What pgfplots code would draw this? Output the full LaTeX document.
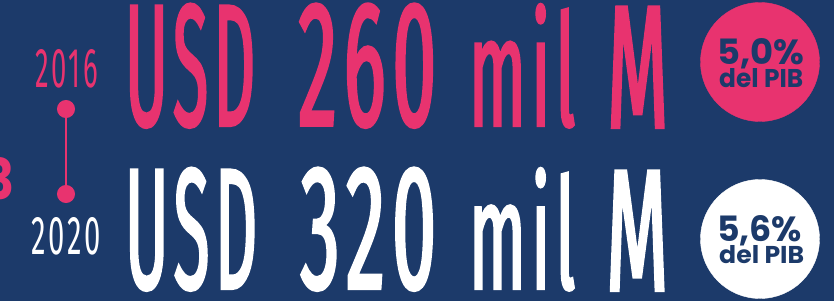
\documentclass[border=0pt]{standalone}
\usepackage{pgfplots}
\pgfplotsset{compat=1.18}
\usepackage{fontspec}
\setmainfont{Fira Sans}
\newfontfamily\bigfont{Fira Sans}[FakeStretch=0.45, FakeBold=1.5, LetterSpace=4]
\newfontfamily\yearfont{Fira Sans}[FakeStretch=0.6, LetterSpace=6]
\newfontfamily\circfont{Poppins}
\definecolor{navy}{HTML}{1C3A6A}
\definecolor{rosa}{HTML}{E8336F}
\newcommand\BW[3]{\resizebox{#1pt}{#2pt}{\bigfont\fontsize{177pt}{177pt}\selectfont #3}}
\begin{document}
\begin{tikzpicture}
\begin{axis}[
  at={(0,0)}, anchor=south west,
  width=834pt, height=301pt, scale only axis,
  xmin=0, xmax=834, ymin=0, ymax=301,
  axis line style={draw=none}, ticks=none,
  axis background/.style={fill=navy},
  clip=false, set layers=standard,
]
% circles
\addplot[only marks, mark=*, mark size=59.5pt, mark options={fill=rosa, draw=rosa}] coordinates {(760,239)};
\addplot[only marks, mark=*, mark size=59.5pt, mark options={fill=white, draw=white}] coordinates {(760,62)};
% timeline
\addplot[rosa, line width=2pt, mark=*, mark size=8pt, mark options={fill=rosa, draw=rosa}] coordinates {(66,192) (66,107)};
\begin{pgfonlayer}{axis foreground}
% big amounts, top line
\node[anchor=south west, inner sep=0pt, text=rosa] at (axis cs:125,173) {\BW{130}{122}{USD}};
\node[anchor=south west, inner sep=0pt, text=rosa] at (axis cs:298,173) {\BW{138}{122}{260}};
\node[anchor=south west, inner sep=0pt, text=rosa] at (axis cs:469,173) {\BW{106}{122}{mil}};
\node[anchor=south west, inner sep=0pt, text=rosa] at (axis cs:607,173) {\BW{61}{121}{M}};
% bottom line
\node[anchor=south west, inner sep=0pt, text=white] at (axis cs:125,10) {\BW{132}{121}{USD}};
\node[anchor=south west, inner sep=0pt, text=white] at (axis cs:300,10) {\BW{136}{121}{320}};
\node[anchor=south west, inner sep=0pt, text=white] at (axis cs:469,10) {\BW{106}{121}{mil}};
\node[anchor=south west, inner sep=0pt, text=white] at (axis cs:606,10) {\BW{62}{120}{M}};
% years
\node[anchor=south west, inner sep=0pt, text=rosa] at (axis cs:35,213)
  {\resizebox{63pt}{38pt}{\yearfont 2016}};
\node[anchor=south west, inner sep=0pt, text=white] at (axis cs:31,46)
  {\resizebox{70pt}{37pt}{\yearfont 2020}};
% partial 3
\node[anchor=south east, inner sep=0pt, text=rosa] at (axis cs:15,101)
  {\resizebox{30pt}{42pt}{\circfont\bfseries 3}};
% circle texts
\node[anchor=base west, inner sep=0pt, text=navy] at (axis cs:717,237)
  {\resizebox{87pt}{26pt}{\circfont\bfseries 5,0\%}};
\node[anchor=base west, inner sep=0pt, text=navy] at (axis cs:719,214)
  {\resizebox{84pt}{19pt}{\circfont\bfseries del PIB}};
\node[anchor=base west, inner sep=0pt, text=navy] at (axis cs:717,60)
  {\resizebox{85pt}{26pt}{\circfont\bfseries 5,6\%}};
\node[anchor=base west, inner sep=0pt, text=navy] at (axis cs:719,38)
  {\resizebox{85pt}{18pt}{\circfont\bfseries del PIB}};
\end{pgfonlayer}
\end{axis}
\pgfresetboundingbox
\path[use as bounding box] (0,0) rectangle (834pt,301pt);
\end{tikzpicture}
\end{document}
